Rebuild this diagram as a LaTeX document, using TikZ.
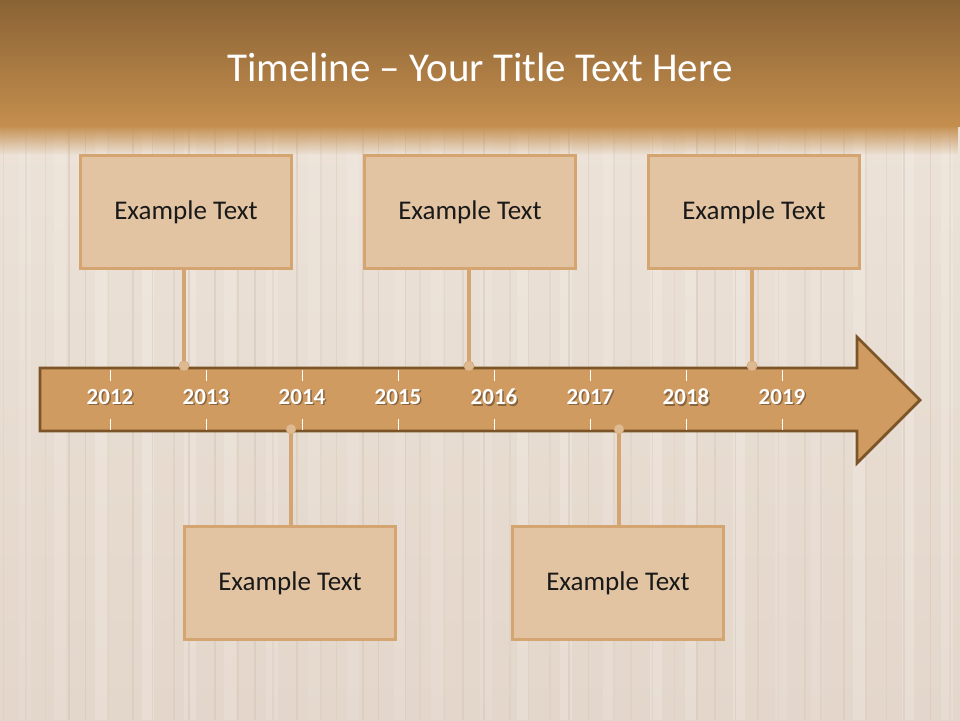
\documentclass[tikz,border=0pt]{standalone}
\usepackage{fontspec}
\setmainfont{Carlito}
\usetikzlibrary{fadings}
\definecolor{bgtop}{HTML}{EEE5DB}
\definecolor{bgbot}{HTML}{E3D6CA}
\definecolor{stripe}{HTML}{D6C7B9}
\definecolor{hdtop}{HTML}{8A6335}
\definecolor{hdbot}{HTML}{C48E4E}
\definecolor{arrowfill}{HTML}{D09B61}
\definecolor{arrowline}{HTML}{7B5428}
\definecolor{boxfill}{HTML}{E2C4A3}
\definecolor{boxline}{HTML}{D4A571}
\definecolor{stemc}{HTML}{D4A572}
\definecolor{dotc}{HTML}{DDBA92}
\tikzset{
  evbox/.style={draw=boxline, line width=2.5pt, fill=boxfill, minimum width=211pt, minimum height=113pt, inner sep=0pt, font=\fontsize{27}{32}\selectfont, text=black!90},
  stem/.style={draw=stemc, line width=4pt},
  dot/.style={circle, fill=dotc, draw=stemc, line width=0.6pt, minimum size=10pt, inner sep=0pt},
  yearlbl/.style={font=\fontsize{23}{27}\selectfont\bfseries, text=white},
  tick/.style={draw=white, line width=1pt}
}
\begin{document}
\begin{tikzpicture}[x=1pt,y=-1pt]
\useasboundingbox (0,0) rectangle (960,720);
% background
\shade[top color=bgtop, bottom color=bgbot] (0,0) rectangle (960,720);
\pgfmathsetseed{7}
\foreach \i in {0,...,22}{
  \pgfmathsetmacro{\xx}{\i*42+10+rnd*10}
  \pgfmathsetmacro{\op}{0.08+rnd*0.12}
  \fill[white, opacity=\op] (\xx,125) rectangle (\xx+12,720);
}
\foreach \i in {0,...,45}{
  \pgfmathsetmacro{\xx}{\i*21+rnd*8}
  \pgfmathsetmacro{\op}{0.25+rnd*0.35}
  \draw[stripe, line width=1.6pt, opacity=\op] (\xx,125) -- (\xx,720);
}
% header
\shade[top color=hdtop, bottom color=hdbot] (0,0) rectangle (960,126);
\fill[hdbot, path fading=south] (0,125) rectangle (960,155);
\node[text=white, font=\fontsize{41}{48}\selectfont] (title) at (480,67) {Timeline -- Your Title Text Here};
% arrow
\draw[fill=arrowfill, draw=arrowline, line width=2.8pt, line join=miter]
  (40,368) -- (857,368) -- (857,337) -- (920,400) -- (857,463) -- (857,431) -- (40,431) -- cycle;
\coordinate (arrowtip) at (920,400);
% ticks and years
\foreach \y [count=\k from 0] in {2012,...,2019}{
  \pgfmathsetmacro{\xx}{110+96*\k}
  \draw[tick] (\xx,370) -- (\xx,381);
  \draw[tick] (\xx,419) -- (\xx,430);
  \node[yearlbl, text=black, opacity=0.35] at (\xx+1.5,398.5) {\y};
  \node[yearlbl] (y\y) at (\xx,397) {\y};
}
% boxes
\node[evbox] (b1) at (186,212) {Example Text};
\node[evbox] (b2) at (470,212) {Example Text};
\node[evbox] (b3) at (754,212) {Example Text};
\node[evbox] (b4) at (290,583) {Example Text};
\node[evbox] (b5) at (618,583) {Example Text};
% dots
\node[dot] (d1) at (184,366) {};
\node[dot] (d2) at (469,366) {};
\node[dot] (d3) at (752,366) {};
\node[dot] (d4) at (291,429) {};
\node[dot] (d5) at (619,429) {};
% stems
\draw[stem] (b1.south -| d1) -- (d1.north);
\draw[stem] (b2.south -| d2) -- (d2.north);
\draw[stem] (b3.south -| d3) -- (d3.north);
\draw[stem] (d4.south) -- (b4.north -| d4);
\draw[stem] (d5.south) -- (b5.north -| d5);
\end{tikzpicture}
\end{document}
